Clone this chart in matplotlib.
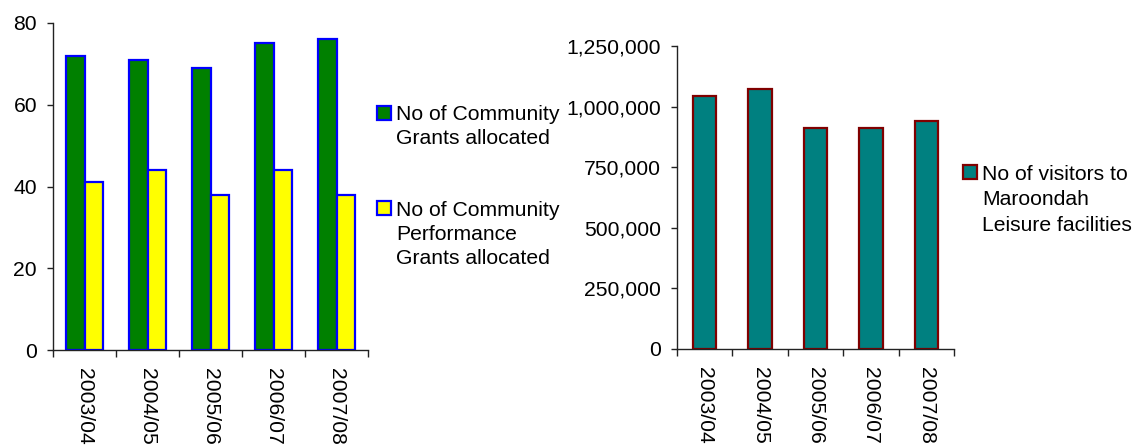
import matplotlib
matplotlib.use("Agg")
import matplotlib.pyplot as plt
import numpy as np
from matplotlib.patches import Rectangle
from matplotlib.ticker import StrMethodFormatter, FixedLocator

plt.rcParams['font.family'] = ['Liberation Sans', 'DejaVu Sans']

years = ["2003/04", "2004/05", "2005/06", "2006/07", "2007/08"]
community_grants = [72, 71, 69, 75, 76]
performance_grants = [41, 44, 38, 44, 38]
leisure_visitors = [1044000, 1071000, 910000, 910000, 941000]

W, H = 1141, 447
FS = 15.2
fig = plt.figure(figsize=(W / 100, H / 100), dpi=100)


def px_axes(left, top, right, bottom):
    return fig.add_axes([left / W, 1 - bottom / H, (right - left) / W, (bottom - top) / H])


def style_axes(ax, n):
    for s in ("top", "right"):
        ax.spines[s].set_visible(False)
    for s in ("left", "bottom"):
        ax.spines[s].set_linewidth(1.0)
        ax.spines[s].set_color("#222222")
    ax.set_xlim(-0.5, n - 0.5)
    ax.set_xticks(np.arange(n))
    ax.set_xticklabels(years, rotation=270, fontsize=FS)
    ax.xaxis.set_minor_locator(FixedLocator(np.arange(n + 1) - 0.5))
    ax.tick_params(axis="x", which="major", length=0, pad=13)
    ax.tick_params(axis="x", which="minor", length=5, width=1, direction="out", color="#222222")
    ax.tick_params(axis="y", length=4.5, width=1, pad=7, labelsize=FS, color="#222222")


def legend_entry(x, y, face, edge, lines, spacing):
    fig.add_artist(Rectangle((x / W, 1 - (y + 14) / H), 14 / W, 14 / H,
                             transform=fig.transFigure, facecolor=face,
                             edgecolor=edge, linewidth=1.6))
    for i, line in enumerate(lines):
        fig.text((x + 19) / W, 1 - (y + 9 + i * spacing) / H, line,
                 fontsize=FS, va="center", ha="left")


# Community grants
x = np.arange(len(years))
ax1 = px_axes(53, 23, 368, 350)
bw = 0.29
ax1.bar(x - bw / 2, community_grants, bw, color="#008000", edgecolor="#0000FF", linewidth=1.6)
ax1.bar(x + bw / 2, performance_grants, bw, color="#FFFF00", edgecolor="#0000FF", linewidth=1.6)
ax1.set_ylim(0, 80)
ax1.set_yticks([0, 20, 40, 60, 80])
style_axes(ax1, len(years))

legend_entry(377, 106, "#008000", "#0000FF", ["No of Community", "Grants allocated"], 24)
legend_entry(377, 201, "#FFFF00", "#0000FF",
             ["No of Community", "Performance", "Grants allocated"], 24)

# Leisure facility visitors
ax2 = px_axes(677, 46, 954, 349)
ax2.bar(x, leisure_visitors, 0.42, color="#008080", edgecolor="#800000", linewidth=1.6)
ax2.set_ylim(0, 1250000)
ax2.set_yticks(np.arange(0, 1250001, 250000))
ax2.yaxis.set_major_formatter(StrMethodFormatter("{x:,.0f}"))
style_axes(ax2, len(years))

legend_entry(963, 165, "#008080", "#800000",
             ["No of visitors to", "Maroondah", "Leisure facilities"], 25.5)

fig.savefig("out.png", dpi=100)
